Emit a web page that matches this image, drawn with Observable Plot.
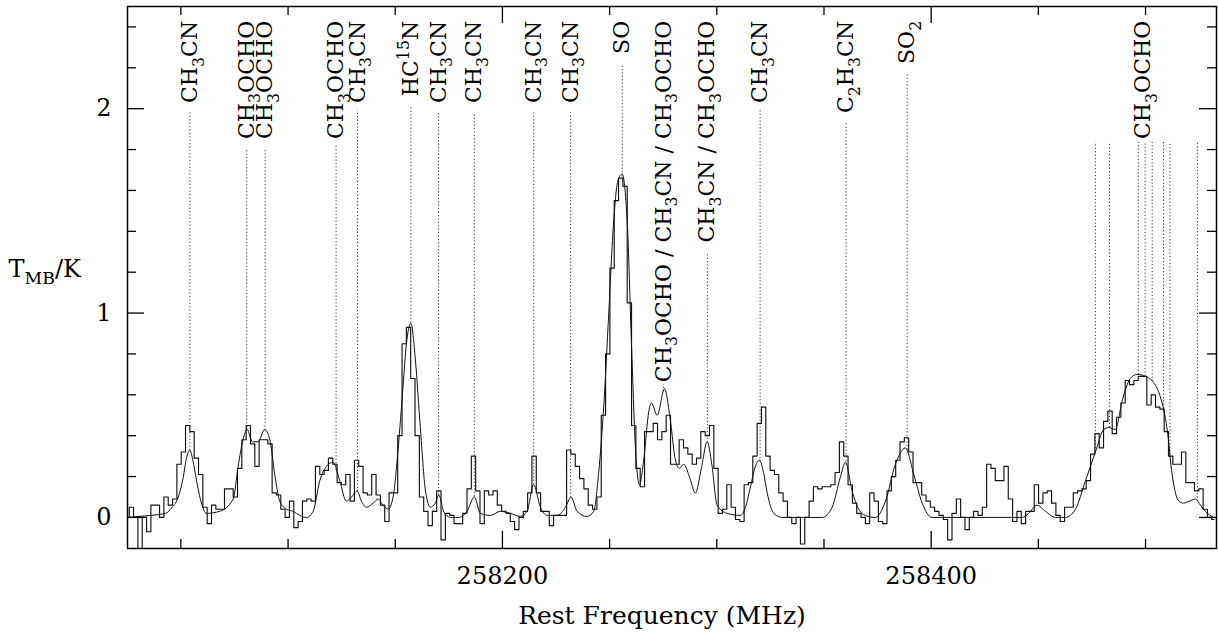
<!DOCTYPE html>
<html><head><meta charset="utf-8">
<script src="https://cdn.jsdelivr.net/npm/d3@7"></script>
<script src="https://cdn.jsdelivr.net/npm/@observablehq/plot@0.6"></script>
<style>
html,body{margin:0;padding:0;background:#fff;}
#chart{width:1218px;height:632px;}
</style></head><body><div id="chart"></div>
<script>
// ---------- data ----------
const chanStartMHz = 258024.9;   // centre of first channel
const chanWidthMHz = 2.02;       // channel spacing
const spectrumT = [
 0.00,0.05,0.00,-0.20,0.00,-0.07,0.06,0.06,0.00,0.10,
 0.06,0.09,0.26,0.32,0.45,0.42,0.29,0.21,0.05,-0.03,
 0.06,0.04,0.04,0.14,0.14,0.10,0.24,0.38,0.45,0.36,
 0.25,0.38,0.38,0.36,0.12,0.11,0.04,0.00,0.08,-0.05,
 -0.02,0.08,0.09,0.08,0.25,0.21,0.23,0.29,0.26,0.17,
 0.16,0.21,0.08,0.28,0.25,0.12,0.11,0.21,0.11,0.06,
 -0.02,0.12,0.12,0.40,0.85,0.93,0.68,0.40,0.10,0.03,
 -0.04,0.03,0.13,-0.11,0.02,0.01,-0.03,-0.03,0.02,0.14,
 0.30,0.13,-0.03,0.13,0.11,0.13,0.06,0.03,0.02,-0.02,
 -0.06,0.00,0.03,0.12,0.30,0.12,0.03,0.03,-0.04,0.01,
 0.01,0.01,0.33,0.31,0.25,0.19,0.14,0.06,0.04,0.10,
 0.50,0.80,1.22,1.55,1.66,1.62,1.05,0.45,0.24,0.15,
 0.42,0.42,0.46,0.38,0.42,0.50,0.26,0.26,0.38,0.34,
 0.31,0.26,0.29,0.42,0.40,0.45,0.24,0.02,0.04,0.16,
 0.05,-0.01,-0.02,0.16,0.17,0.30,0.46,0.54,0.30,0.23,
 0.21,0.12,0.08,0.00,-0.03,0.00,-0.13,0.00,0.08,0.15,
 0.14,0.15,0.15,0.16,0.22,0.37,0.30,0.16,0.07,0.02,
 0.00,-0.03,0.12,0.08,-0.02,-0.03,0.13,0.20,0.28,0.37,
 0.39,0.32,0.17,0.17,0.11,0.08,0.05,0.03,0.01,-0.01,
 -0.11,0.02,0.09,0.00,-0.06,0.00,0.03,0.01,0.05,0.26,
 0.24,0.18,0.18,0.25,0.09,-0.02,0.03,-0.03,0.03,0.03,
 0.16,0.07,0.12,0.13,0.07,0.01,-0.02,0.05,0.05,0.12,
 0.13,0.14,0.18,0.31,0.41,0.34,0.47,0.52,0.41,0.49,
 0.56,0.67,0.65,0.67,0.69,0.69,0.55,0.60,0.54,0.53,
 0.42,0.30,0.26,0.26,0.32,0.17,0.17,0.13,0.14,0.04,
 0.00,-0.01
];
const modelFreq = [
 258025.1,258035.8,258042.8,258046.0,258048.8,258051.0,258052.6,258054.1,258055.6,258057.3,
 258059.6,258061.9,258068.1,258074.4,258076.7,258079.0,258080.9,258083.4,258086.0,258089.1,
 258091.5,258093.8,258096.1,258099.2,258102.4,258105.4,258108.6,258111.7,258114.8,258117.9,
 258121.0,258124.1,258127.2,258129.6,258132.2,258134.2,258136.6,258139.7,258142.0,258144.3,
 258146.7,258149.0,258151.3,258153.7,258155.2,258157.3,258159.4,258161.7,258164.1,258166.4,
 258168.7,258170.3,258172.6,258175.7,258179.5,258183.5,258186.9,258189.7,258194.4,258199.1,
 258203.7,258208.4,258211.5,258214.6,258217.7,258220.9,258225.5,258229.4,258232.0,258234.8,
 258239.5,258242.6,258244.9,258247.3,258249.6,258251.9,258253.9,258255.8,258258.2,258260.2,
 258262.0,258263.9,258265.9,258268.3,258269.5,258272.2,258275.6,258278.4,258280.7,258282.6,
 258284.6,258287.2,258290.0,258292.8,258295.5,258297.8,258300.1,258304.8,258311.0,258313.4,
 258315.7,258318.0,258319.9,258321.8,258323.5,258326.6,258330.5,258349.1,258353.8,258357.7,
 258360.0,258363.1,258366.2,258369.3,258374.0,258378.7,258383.3,258388.0,258391.9,258395.8,
 258400.4,258442.4,258445.5,258449.4,258453.3,258458.0,258462.6,258467.3,258472.0,258476.6,
 258480.5,258482.8,258485.9,258489.1,258492.9,258496.1,258499.9,258503.8,258506.9,258510.1,
 258512.4,258515.5,258517.8,258520.5,258523.3,258525.6,258527.9,258531.8
];
const modelT = [
 0.00,0.01,0.02,0.05,0.10,0.19,0.29,0.33,0.28,0.18,
 0.07,0.02,0.03,0.09,0.25,0.38,0.43,0.37,0.37,0.43,
 0.38,0.21,0.08,0.04,0.03,0.01,0.00,0.03,0.18,0.25,
 0.27,0.18,0.08,0.10,0.13,0.08,0.05,0.07,0.09,0.06,
 0.04,0.10,0.33,0.65,0.85,0.95,0.77,0.44,0.13,0.05,
 0.07,0.11,0.03,0.00,0.00,0.03,0.10,0.02,0.01,0.03,
 0.02,0.005,0.03,0.16,0.05,0.01,0.01,0.05,0.10,0.03,
 0.005,0.03,0.22,0.55,1.00,1.45,1.65,1.68,1.45,0.85,
 0.35,0.16,0.28,0.52,0.56,0.50,0.63,0.47,0.28,0.24,
 0.26,0.20,0.12,0.24,0.37,0.25,0.06,0.02,0.01,0.05,
 0.15,0.25,0.28,0.22,0.12,0.02,0.00,0.00,0.05,0.20,
 0.27,0.13,0.04,0.01,0.00,0.08,0.26,0.34,0.21,0.07,
 0.00,0.00,0.02,0.06,0.03,0.00,0.00,0.04,0.18,0.32,
 0.43,0.44,0.43,0.57,0.68,0.70,0.69,0.66,0.59,0.43,
 0.21,0.08,0.07,0.08,0.09,0.06,0.03,0.00
];
const lineFreq = [258054.2,258080.7,258089.3,258122.4,258132.4,258157.3,258170.2,258186.9,
  258214.6,258231.8,258255.9,258275.2,258295.6,258320.2,258360.3,258388.8,
  258476.6,258483.2,258496.6,258499.8,258503.1,258508.4,258511.4,258524.2];
const lineTop = [1.99,1.80,1.80,1.82,1.99,2.01,1.98,1.98,
  1.99,1.98,2.21,0.65,1.29,1.99,1.93,2.17,
  1.835,1.835,1.835,1.835,1.835,1.835,1.835,1.835];
const lineLabel = ["CH_3CN","CH_3OCHO","CH_3OCHO","CH_3OCHO","CH_3CN","HC^{15}N","CH_3CN","CH_3CN",
  "CH_3CN","CH_3CN","SO","CH_3OCHO / CH_3CN / CH_3OCHO","CH_3CN / CH_3OCHO","CH_3CN","C_2H_3CN","SO_2",
  "","","","","","","",""];
const groupLabelFreq = [258499.0];
const groupLabelText = ["CH_3OCHO"];
const labelTopT = 2.43;
const xTickValues = [258050,258100,258150,258200,258250,258300,258350,258400,258450,258500];
const xTickLabelled = [258200,258400];
const yMajor = [0,1,2];
const yMinor = [0.2,0.4,0.6,0.8,1.2,1.4,1.6,1.8,2.2,2.4];
const xTitle = "Rest Frequency (MHz)";
const yTitle = "T_{MB}/K";

// ---------- layout ----------
const W = 1218, H = 632;
const mL = 127, mR = 2, mT = 6, mB = 84;
const xDomain = [258025.1, 258533.1];
const yDomain = [-0.152, 2.5];
const xPerPx = (xDomain[1]-xDomain[0])/(W-mL-mR);
const yPerPx = (yDomain[1]-yDomain[0])/(H-mT-mB);

const spectrum = spectrumT.map((t,i)=>({f: chanStartMHz + i*chanWidthMHz, t}));
const model = modelFreq.map((f,i)=>({f, t: modelT[i]}));
function modelAt(f){
  const i = d3.bisectRight(modelFreq, f);
  if (i<=0) return modelT[0];
  if (i>=modelFreq.length) return modelT[modelT.length-1];
  const f0=modelFreq[i-1], f1=modelFreq[i];
  return modelT[i-1] + (modelT[i]-modelT[i-1])*(f-f0)/(f1-f0);
}
const lines = lineFreq.map((f,i)=>({f, top: lineTop[i], bottom: modelAt(f)}));
const labels = lineFreq.map((f,i)=>({f, text: lineLabel[i]})).filter(d=>d.text)
  .concat(groupLabelFreq.map((f,i)=>({f, text: groupLabelText[i]})));

const tick = {stroke:"black", strokeWidth:1.3};
const chart = Plot.plot({
  width: W, height: H, marginLeft: mL, marginRight: mR, marginTop: mT, marginBottom: mB,
  style: {fontFamily: "'DejaVu Serif', serif", background: "white", color: "black"},
  x: {domain: xDomain, axis: null},
  y: {domain: yDomain, axis: null},
  marks: [
    Plot.ruleX(lines, {x:"f", y1:"bottom", y2:"top", stroke:"#333", strokeWidth:1, strokeDasharray:"1.2,2.2"}),
    Plot.line(model, {x:"f", y:"t", curve:"monotone-x", stroke:"#111", strokeWidth:1, clip:true}),
    Plot.line(spectrum, {x:"f", y:"t", curve:"step", stroke:"#111", strokeWidth:1.15, clip:true}),
    // x ticks (inward, bottom & top)
    Plot.ruleX(xTickValues, {x:d=>d, y1:yDomain[0], y2:d=>yDomain[0]+(xTickLabelled.includes(d)?17:9)*yPerPx, ...tick}),
    Plot.ruleX(xTickValues, {x:d=>d, y1:yDomain[1], y2:d=>yDomain[1]-(xTickLabelled.includes(d)?17:9)*yPerPx, ...tick}),
    // y ticks (inward, left & right)
    Plot.ruleY(yMajor, {y:d=>d, x1:xDomain[0], x2:xDomain[0]+17*xPerPx, ...tick}),
    Plot.ruleY(yMajor, {y:d=>d, x1:xDomain[1], x2:xDomain[1]-17*xPerPx, ...tick}),
    Plot.ruleY(yMinor, {y:d=>d, x1:xDomain[0], x2:xDomain[0]+9*xPerPx, ...tick}),
    Plot.ruleY(yMinor, {y:d=>d, x1:xDomain[1], x2:xDomain[1]-9*xPerPx, ...tick}),
    Plot.frame({stroke:"black", strokeWidth:1.5}),
    // tick labels
    Plot.text(xTickLabelled, {x:d=>d, frameAnchor:"bottom", dy:28, text:d=>String(d), fontSize:24, fill:"black", lineAnchor:"middle"}),
    Plot.text(yMajor, {y:d=>d, frameAnchor:"left", dx:-16, textAnchor:"end", text:d=>String(d), fontSize:24, fill:"black", lineAnchor:"middle"}),
    // species labels
    Plot.text(labels, {x:"f", y:()=>labelTopT, text:"text", rotate:-90, textAnchor:"end", lineAnchor:"middle", fontSize:22, fill:"black", className:"species"}),
    // axis titles
    Plot.text([xTitle], {frameAnchor:"bottom", dy:67, dx:-10, fontSize:25, fill:"black", lineAnchor:"middle"}),
    Plot.text([yTitle], {frameAnchor:"left", dx:-119, dy:-8, textAnchor:"start", fontSize:24, fill:"black", lineAnchor:"middle", className:"ytitle"})
  ]
});
document.getElementById("chart").appendChild(chart);

// sub/superscript markup -> tspans
const NS = "http://www.w3.org/2000/svg";
function richify(el, base){
  const s = el.textContent;
  while (el.firstChild) el.removeChild(el.firstChild);
  const re = /([_^])\{([^}]*)\}|([_^])(.)/g;
  let last = 0, m; const parts = [];
  while ((m = re.exec(s))) {
    if (m.index > last) parts.push({t: s.slice(last, m.index), k: 0});
    const kind = m[1] || m[3];
    parts.push({t: m[2] !== undefined ? m[2] : m[4], k: kind === "_" ? 1 : -1});
    last = re.lastIndex;
  }
  if (last < s.length) parts.push({t: s.slice(last), k: 0});
  let shift = 0;
  for (const p of parts) {
    const ts = document.createElementNS(NS, "tspan");
    const target = p.k === 1 ? 0.3*base : p.k === -1 ? -0.42*base : 0;
    const dy = target - shift; shift = target;
    if (dy) ts.setAttribute("dy", dy.toFixed(2));
    if (p.k) ts.setAttribute("font-size", (0.72*base).toFixed(1));
    ts.textContent = p.t;
    el.appendChild(ts);
  }
}
chart.querySelectorAll(".species text").forEach(el => richify(el, 22));
chart.querySelectorAll(".ytitle text").forEach(el => richify(el, 24));
</script>
</body></html>
